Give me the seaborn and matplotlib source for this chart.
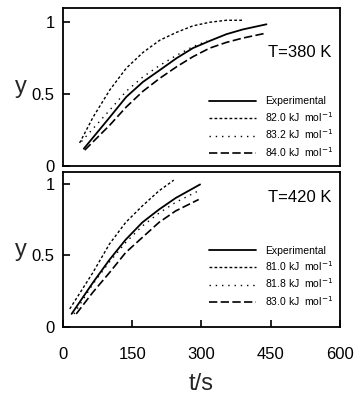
"""
Fraction converted y versus time at two temperatures, experiment vs model.
"""
import matplotlib

matplotlib.use("Agg")
import matplotlib.pyplot as plt
import pandas as pd
import seaborn as sns

# T = 380 K
t_exp_380 = [45, 101, 136, 172, 208, 244, 279, 315, 351, 386, 437]
y_exp_380 = [0.12, 0.34, 0.48, 0.585, 0.667, 0.75, 0.82, 0.87, 0.917,
             0.95, 0.986]
t_820 = [36, 65, 101, 136, 172, 208, 244, 279, 315, 351, 386]
y_820 = [0.16, 0.34, 0.53, 0.68, 0.79, 0.875, 0.93, 0.975, 1.0, 1.014,
         1.014]
t_832 = [40, 101, 136, 172, 208, 244, 279, 310]
y_832 = [0.17, 0.39, 0.52, 0.62, 0.70, 0.77, 0.83, 0.87]
t_840 = [47, 101, 136, 172, 208, 244, 279, 315, 351, 386, 437]
y_840 = [0.11, 0.285, 0.41, 0.52, 0.61, 0.69, 0.76, 0.82, 0.86, 0.89,
         0.925]
labels_380 = ["Experimental", "82.0 kJ  mol$^{-1}$",
              "83.2 kJ  mol$^{-1}$", "84.0 kJ  mol$^{-1}$"]

# T = 420 K
t_exp_420 = [19, 65, 101, 136, 172, 208, 244, 297]
y_exp_420 = [0.092, 0.31, 0.47, 0.61, 0.73, 0.82, 0.90, 0.995]
t_810 = [15, 65, 101, 136, 172, 208, 240]
y_810 = [0.127, 0.38, 0.58, 0.73, 0.845, 0.95, 1.025]
t_818 = [24, 65, 101, 136, 172, 208, 244, 297]
y_818 = [0.092, 0.30, 0.455, 0.59, 0.705, 0.795, 0.87, 0.956]
t_830 = [29, 65, 101, 136, 172, 208, 244, 294]
y_830 = [0.092, 0.243, 0.38, 0.52, 0.625, 0.73, 0.81, 0.89]
labels_420 = ["Experimental", "81.0 kJ  mol$^{-1}$",
              "81.8 kJ  mol$^{-1}$", "83.0 kJ  mol$^{-1}$"]

styles = [(None, 1.3), ((2.0, 1.6), 1.0), ((1.0, 3.5), 1.0), ((5.0, 2.0), 1.2)]

sns.set_style("ticks")
plt.rcParams["font.family"] = ["Liberation Sans", "DejaVu Sans"]
plt.rcParams["text.color"] = "black"

fig = plt.figure(figsize=(3.55, 3.96), dpi=100)
ax_top = fig.add_axes([0.177, 0.581, 0.781, 0.399])
ax_bot = fig.add_axes([0.177, 0.174, 0.781, 0.391])

panels = [
    (ax_top, [(t_exp_380, y_exp_380), (t_820, y_820), (t_832, y_832),
              (t_840, y_840)], labels_380, "T=380 K", 1.1, 0.715, 0.0),
    (ax_bot, [(t_exp_420, y_exp_420), (t_810, y_810), (t_818, y_818),
              (t_830, y_830)], labels_420, "T=420 K", 1.08, 0.84, 0.077),
]

for ax, series, labels, title, ytop, ty, legy in panels:
    for (t, y), label, (dash, lw) in zip(series, labels, styles):
        df = pd.DataFrame({"t": t, "y": y})
        sns.lineplot(data=df, x="t", y="y", ax=ax, color="black",
                     linewidth=lw, label=label)
        if dash is not None:
            ax.lines[-1].set_dashes(dash)
    ax.set_xlim(0, 595)
    ax.set_ylim(0, ytop)
    ax.set_yticks([0, 0.5, 1])
    ax.set_yticklabels(["0", "0.5", "1"])
    ax.set_ylabel("y", fontsize=17, rotation=0, va="center")
    ax.yaxis.set_label_coords(-0.15, 0.5)
    ax.set_xlabel("")
    for side in ["left", "right", "top", "bottom"]:
        ax.spines[side].set_visible(True)
        ax.spines[side].set_linewidth(1.3)
        ax.spines[side].set_color("black")
    ax.tick_params(direction="in", length=5, width=1.2, labelsize=12,
                   colors="black", pad=6)
    ax.text(0.97, ty, title, transform=ax.transAxes, ha="right",
            va="center", fontsize=12)
    ax.legend(loc="lower right", bbox_to_anchor=(1.0, legy), frameon=False,
              fontsize=7.5, handlelength=4.5, handletextpad=0.8,
              labelspacing=0.35, borderaxespad=0.3, labelcolor="black")

ax_top.set_xticks([])
ax_bot.set_xticks([0, 150, 300, 450, 600])
ax_bot.set_xticklabels(["0", "150", "300", "450", "600"])
ax_bot.tick_params(axis="x", pad=14)
ax_bot.set_xlabel("t/s", fontsize=17, labelpad=8)

fig.savefig("out.png", dpi=100)
